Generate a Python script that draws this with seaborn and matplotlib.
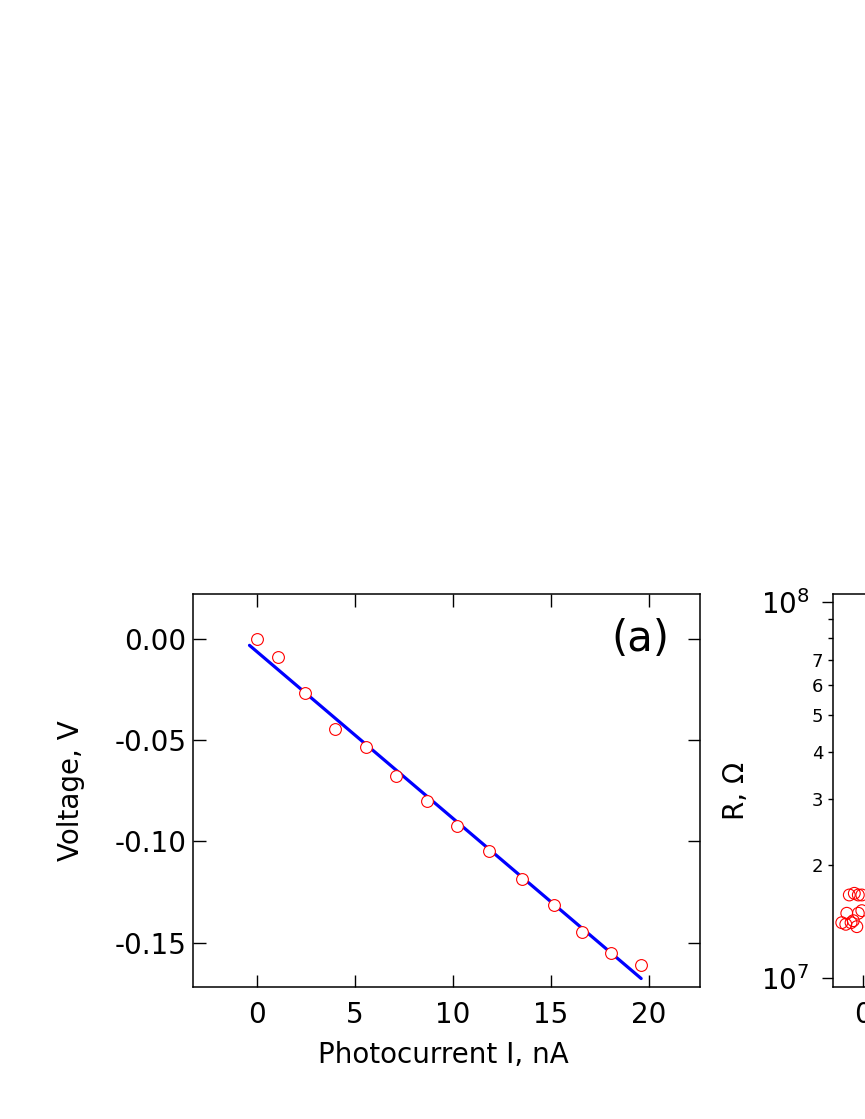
import numpy as np
import pandas as pd
import matplotlib
matplotlib.use('Agg')
import matplotlib.pyplot as plt
import seaborn as sns
from matplotlib.ticker import FixedLocator, FuncFormatter, LogLocator

sns.set_style("ticks")
plt.rcParams["font.family"] = ["DejaVu Sans"]
plt.rcParams["text.color"] = "black"
plt.rcParams["axes.labelcolor"] = "black"
plt.rcParams["xtick.color"] = "black"
plt.rcParams["ytick.color"] = "black"

# ==== Panel (a): voltage vs photocurrent ====
current_nA = [0.0, 1.06, 2.46, 3.99, 5.55, 7.10, 8.68, 10.21, 11.85, 13.53, 15.18, 16.56, 18.05, 19.58]
voltage_V = [0.000, -0.0086, -0.0264, -0.0444, -0.0532, -0.0678, -0.0800, -0.0926,
             -0.1046, -0.1185, -0.1312, -0.1449, -0.1554, -0.1611]
fit_current = [-0.37, 19.6]
fit_voltage = [-0.0030, -0.1678]

# ==== Panel (b): resistance (only the left edge is visible) ====
b_x = [-0.55, -0.35, -0.19, -0.05, -0.65, -0.85, -0.69, -0.39, -0.25, -0.19, -0.05, -0.48]
b_R = [1.664e7, 1.681e7, 1.664e7, 1.664e7, 1.488e7, 1.405e7, 1.391e7, 1.422e7,
       1.371e7, 1.488e7, 1.512e7, 1.405e7]

df_a = pd.DataFrame({"I": current_nA, "V": voltage_V})
df_fit = pd.DataFrame({"I": fit_current, "V": fit_voltage})
df_b = pd.DataFrame({"x": b_x, "R": b_R})

W, H = 865, 1119
fig = plt.figure(figsize=(W / 100, H / 100), dpi=100)

ax = fig.add_axes([193 / W, (H - 987) / H, 507 / W, 393 / H])
sns.lineplot(data=df_fit, x="I", y="V", color="#0000ff", linewidth=2.3, ax=ax, zorder=2)
sns.scatterplot(data=df_a, x="I", y="V", marker="o", s=72, facecolor="white",
                edgecolor="red", linewidth=0.8, ax=ax, zorder=3)
ax.set_xlim(-3.25, 22.6)
ax.set_ylim(-0.172, 0.0224)
ax.set_xticks([0, 5, 10, 15, 20])
ax.set_yticks([0.0, -0.05, -0.10, -0.15])
ax.yaxis.set_major_formatter(FuncFormatter(lambda v, p: f"{v:.2f}".replace("-0.00", "0.00")))
ax.tick_params(direction="in", length=9, width=1, bottom=True, left=True, top=True, right=True,
               labelsize=20, colors="black")
ax.tick_params(axis="x", pad=10)
ax.tick_params(axis="y", pad=4.5)
for sp in ax.spines.values():
    sp.set_visible(True)
    sp.set_linewidth(1.1)
    sp.set_color("black")
ax.set_xlabel("Photocurrent I, nA", fontsize=20)
ax.set_ylabel("Voltage, V", fontsize=20)
ax.xaxis.set_label_coords(0.493, -0.137)
ax.yaxis.set_label_coords(-0.213, 0.5)
ax.text(0.94, 0.885, "(a)", transform=ax.transAxes, fontsize=30, ha="right", va="center")

# ==== Panel (b) ====
bx = fig.add_axes([832.5 / W, (H - 987) / H, 507 / W, 393 / H])
sns.scatterplot(data=df_b, x="x", y="R", marker="o", s=72, facecolor="none",
                edgecolor="red", linewidth=0.8, ax=bx)
bx.set_yscale("log")
bx.set_ylim(0.948e7, 1.048e8)
bx.set_xlim(-1.22, 19.0)
bx.set_xticks([0, 5, 10, 15])
bx.yaxis.set_major_locator(FixedLocator([1e7, 1e8]))
bx.yaxis.set_minor_locator(LogLocator(base=10, subs=np.arange(2, 10)))
bx.yaxis.set_minor_formatter(FuncFormatter(
    lambda v, p: f"{int(round(v / 1e7))}" if round(v / 1e7) <= 7 and v < 1e8 else ""))
bx.tick_params(axis="y", which="major", direction="out", length=8, width=1, left=True,
               labelsize=20, pad=8.4)
bx.tick_params(axis="y", which="minor", direction="out", length=3.5, width=1, left=True,
               labelsize=13, pad=3)
bx.tick_params(axis="x", direction="in", length=9, width=1, bottom=True, labelsize=20, pad=10)
for sp in bx.spines.values():
    sp.set_visible(True)
    sp.set_linewidth(1.1)
    sp.set_color("black")
bx.set_xlabel("")
bx.set_ylabel("R, Ω", fontsize=20)
bx.yaxis.set_label_coords(-0.163, 0.5)

plt.savefig("out.png", dpi=100)
plt.close()
